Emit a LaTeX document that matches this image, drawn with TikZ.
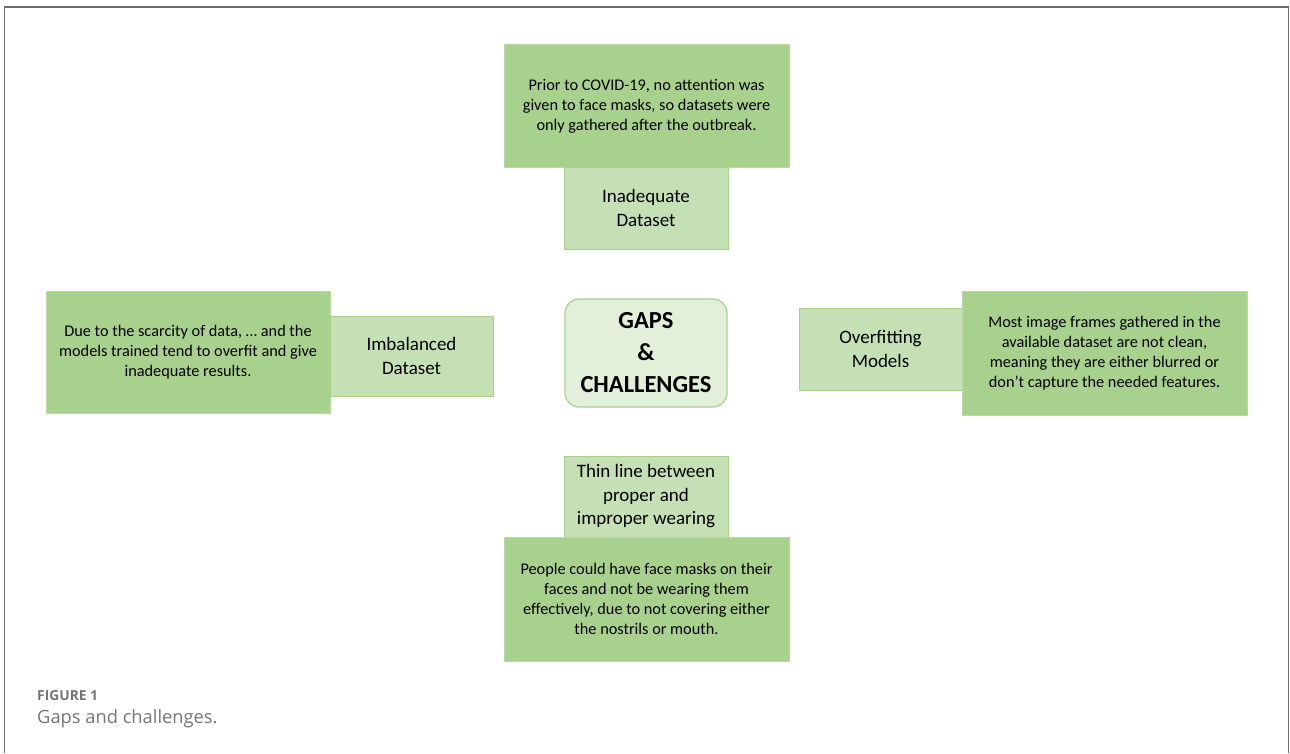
\documentclass[tikz,border=0pt]{standalone}
\usepackage{fontspec}
\setmainfont{Carlito}
\newfontfamily\capfont{Open Sans}
\definecolor{darkg}{HTML}{A9D18E}
\definecolor{darkgb}{HTML}{B9DBA2}
\definecolor{lightg}{HTML}{C5E0B4}
\definecolor{lightgb}{HTML}{A9D18E}
\definecolor{centerg}{HTML}{E2F0D9}
\definecolor{framec}{HTML}{6E6E6E}
\definecolor{capc}{HTML}{767676}
\tikzset{
  darkbox/.style={rectangle, fill=darkg, draw=darkgb, line width=0.8pt, inner sep=0pt, align=center,
    minimum width=285pt, minimum height=123pt, font=\fontsize{16.3}{20.2}\selectfont},
  lightbox/.style={rectangle, fill=lightg, draw=lightgb, line width=0.8pt, inner sep=0pt, align=center,
    minimum width=164pt, minimum height=81pt, font=\fontsize{19}{23.5}\selectfont},
  centerbox/.style={rectangle, rounded corners=14pt, fill=centerg, draw=darkg, line width=1.2pt, inner sep=0pt, align=center,
    minimum width=162pt, minimum height=108pt, font=\fontsize{24.5}{32}\selectfont\bfseries}
}
\begin{document}
\begin{tikzpicture}[x=1pt,y=-1pt]
\useasboundingbox (0,0) rectangle (1290,753);
\fill[white] (0,0) rectangle (1290,753);
\draw[framec, line width=1.6pt] (4.5,753) -- (4.5,7) -- (1288.5,7) -- (1288.5,753);

% top
\node[darkbox] (tdesc) at (646.5,106) {Prior to COVID-19, no attention was\\given to face masks, so datasets were\\only gathered after the outbreak.};
\node[lightbox, minimum height=82pt] (tlab) at (646,208) {Inadequate\\Dataset};

% left
\node[darkbox, minimum width=284pt, minimum height=122pt] (ldesc) at (188,352) {Due to the scarcity of data, \dots\ and the\\models trained tend to overfit and give\\inadequate results.};
\node[lightbox, minimum width=163pt, minimum height=80pt] (llab) at (411.5,356) {Imbalanced\\Dataset};

% center
\node[centerbox] (center) at (646,353) {GAPS\\\&\\CHALLENGES};

% right
\node[lightbox, minimum width=163pt, minimum height=82pt] (rlab) at (880.5,349) {Overfitting\\Models};
\node[darkbox, minimum height=124pt] (rdesc) at (1104.5,353) {Most image frames gathered in the\\available dataset are not clean,\\meaning they are either blurred or\\don't capture the needed features.};

% bottom
\node[lightbox] (blab) at (646,496.5) {Thin line between\\proper and\\improper wearing};
\node[darkbox, minimum height=124pt] (bdesc) at (646.5,599) {People could have face masks on their\\faces and not be wearing them\\effectively, due to not covering either\\the nostrils or mouth.};

% caption
\node[anchor=west, inner sep=0pt, text=capc, font=\capfont\fontsize{13.8}{15}\selectfont\bfseries] (fig) at (37,696) {FIGURE 1};
\node[anchor=west, inner sep=0pt, text=capc, font=\capfont\fontsize{18.3}{20}\selectfont] (cap) at (37,719) {Gaps and challenges.};
\end{tikzpicture}
\end{document}
